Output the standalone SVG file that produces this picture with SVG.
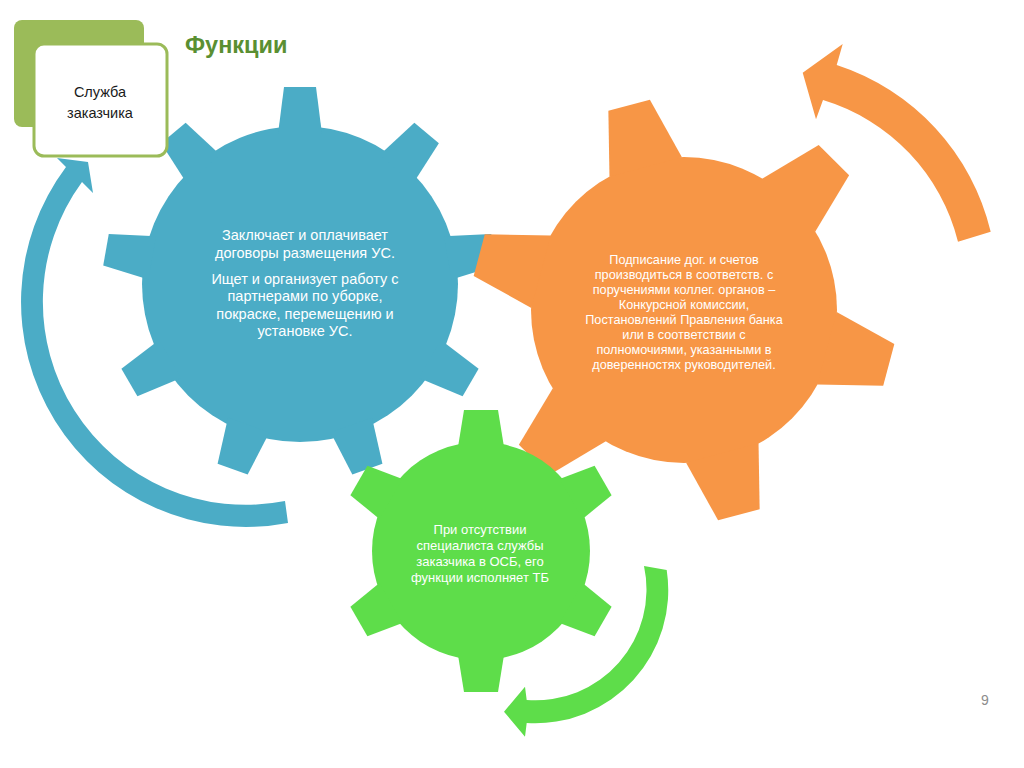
<svg xmlns="http://www.w3.org/2000/svg" width="1024" height="768" viewBox="0 0 1024 768">
<defs>
<style>
.t{font-family:"Liberation Sans",Arial,sans-serif;text-anchor:middle;fill:#ffffff}
.tb{font-size:14.5px}
.to{font-size:12.7px}
.tg{font-size:13px}
.box{font-family:"Liberation Sans",Arial,sans-serif;text-anchor:middle;fill:#1a1a1a;font-size:14.5px}
.title{font-family:"Liberation Sans",Arial,sans-serif;font-weight:bold;font-size:23.5px;fill:#5A8F32}
.blue{fill:#4BACC6}
.orange{fill:#F79646}
.green{fill:#5EDD4A}
</style>
<polygon id="toothB" points="-22,-150 -16,-197 16,-197 22,-150"/>
<polygon id="toothO" points="-37.5,-148 -21.5,-212 21.5,-212 37.5,-148"/>
<polygon id="toothG" points="-23,-104 -17,-141 17,-141 23,-104"/>
</defs>
<rect width="1024" height="768" fill="#ffffff"/>

<g id="connectors">
<path id="arrow-blue" class="blue" d="M288,523 A225,225 0 0 1 66,167 L57,158 L88,162 L93,193 L82,182 A203,203 0 0 0 285,501 Z"/>
<path id="arrow-orange" class="orange" d="M990.7,231.7 A232,232 0 0 0 836.7,65 L842.7,44 L802.7,72.7 L816,119.3 L823,100 A198,198 0 0 1 958,241.7 Z"/>
<path id="arrow-green" class="green" d="M666.7,570 A133,133 0 0 1 526.7,723 L525,736.7 L504,711.7 L525,686.7 L526.7,700 A111,111 0 0 0 644,566 Z"/>
</g>

<g id="node-blue">
<g class="blue" transform="translate(300,284)">
<circle r="158"/>
<use href="#toothB"/>
<use href="#toothB" transform="rotate(40)"/>
<use href="#toothB" transform="rotate(80)"/>
<use href="#toothB" transform="rotate(120)"/>
<use href="#toothB" transform="rotate(160)"/>
<use href="#toothB" transform="rotate(200)"/>
<use href="#toothB" transform="rotate(240)"/>
<use href="#toothB" transform="rotate(280)"/>
<use href="#toothB" transform="rotate(320)"/>
</g>
<text class="t tb" x="305" y="239.5">Заключает и оплачивает</text>
<text class="t tb" x="305" y="257.5">договоры размещения УС.</text>
<text class="t tb" x="305" y="283.5">Ищет и организует работу с</text>
<text class="t tb" x="305" y="301">партнерами по уборке,</text>
<text class="t tb" x="305" y="318.5">покраске, перемещению и</text>
<text class="t tb" x="305" y="336">установке УС.</text>
</g>

<g id="node-orange">
<g class="orange" transform="translate(684,310)">
<circle r="153"/>
<use href="#toothO" transform="rotate(-15)"/>
<use href="#toothO" transform="rotate(45)"/>
<use href="#toothO" transform="rotate(105)"/>
<use href="#toothO" transform="rotate(165)"/>
<use href="#toothO" transform="rotate(225)"/>
<use href="#toothO" transform="rotate(285)"/>
</g>
<text class="t to" x="684" y="264">Подписание дог. и счетов</text>
<text class="t to" x="684" y="279">производиться в соответств. с</text>
<text class="t to" x="684" y="294">поручениями коллег. органов –</text>
<text class="t to" x="684" y="309">Конкурсной комиссии,</text>
<text class="t to" x="684" y="324">Постановлений Правления банка</text>
<text class="t to" x="684" y="339">или в соответствии с</text>
<text class="t to" x="684" y="354">полномочиями, указанными в</text>
<text class="t to" x="684" y="369">доверенностях руководителей.</text>
</g>

<g id="node-green">
<g class="green" transform="translate(481,551)">
<circle r="109"/>
<use href="#toothG"/>
<use href="#toothG" transform="rotate(60)"/>
<use href="#toothG" transform="rotate(120)"/>
<use href="#toothG" transform="rotate(180)"/>
<use href="#toothG" transform="rotate(240)"/>
<use href="#toothG" transform="rotate(300)"/>
</g>
<text class="t tg" x="480" y="533.5">При отсутствии</text>
<text class="t tg" x="480" y="550">специалиста службы</text>
<text class="t tg" x="480" y="566">заказчика в ОСБ, его</text>
<text class="t tg" x="480" y="582">функции исполняет ТБ</text>
</g>

<g id="node-box">
<rect x="14" y="20" width="130" height="107" rx="8" fill="#9BBB59"/>
<rect x="34" y="44" width="133" height="112" rx="10" fill="#ffffff" stroke="#9BBB59" stroke-width="3"/>
<text class="box" x="100" y="97">Служба</text>
<text class="box" x="100" y="118">заказчика</text>
</g>

<text id="title" class="title" x="185" y="53">Функции</text>
<text id="page" x="985" y="705" font-family="Liberation Sans, Arial, sans-serif" font-size="14" fill="#8C8C8C" text-anchor="middle">9</text>
</svg>
